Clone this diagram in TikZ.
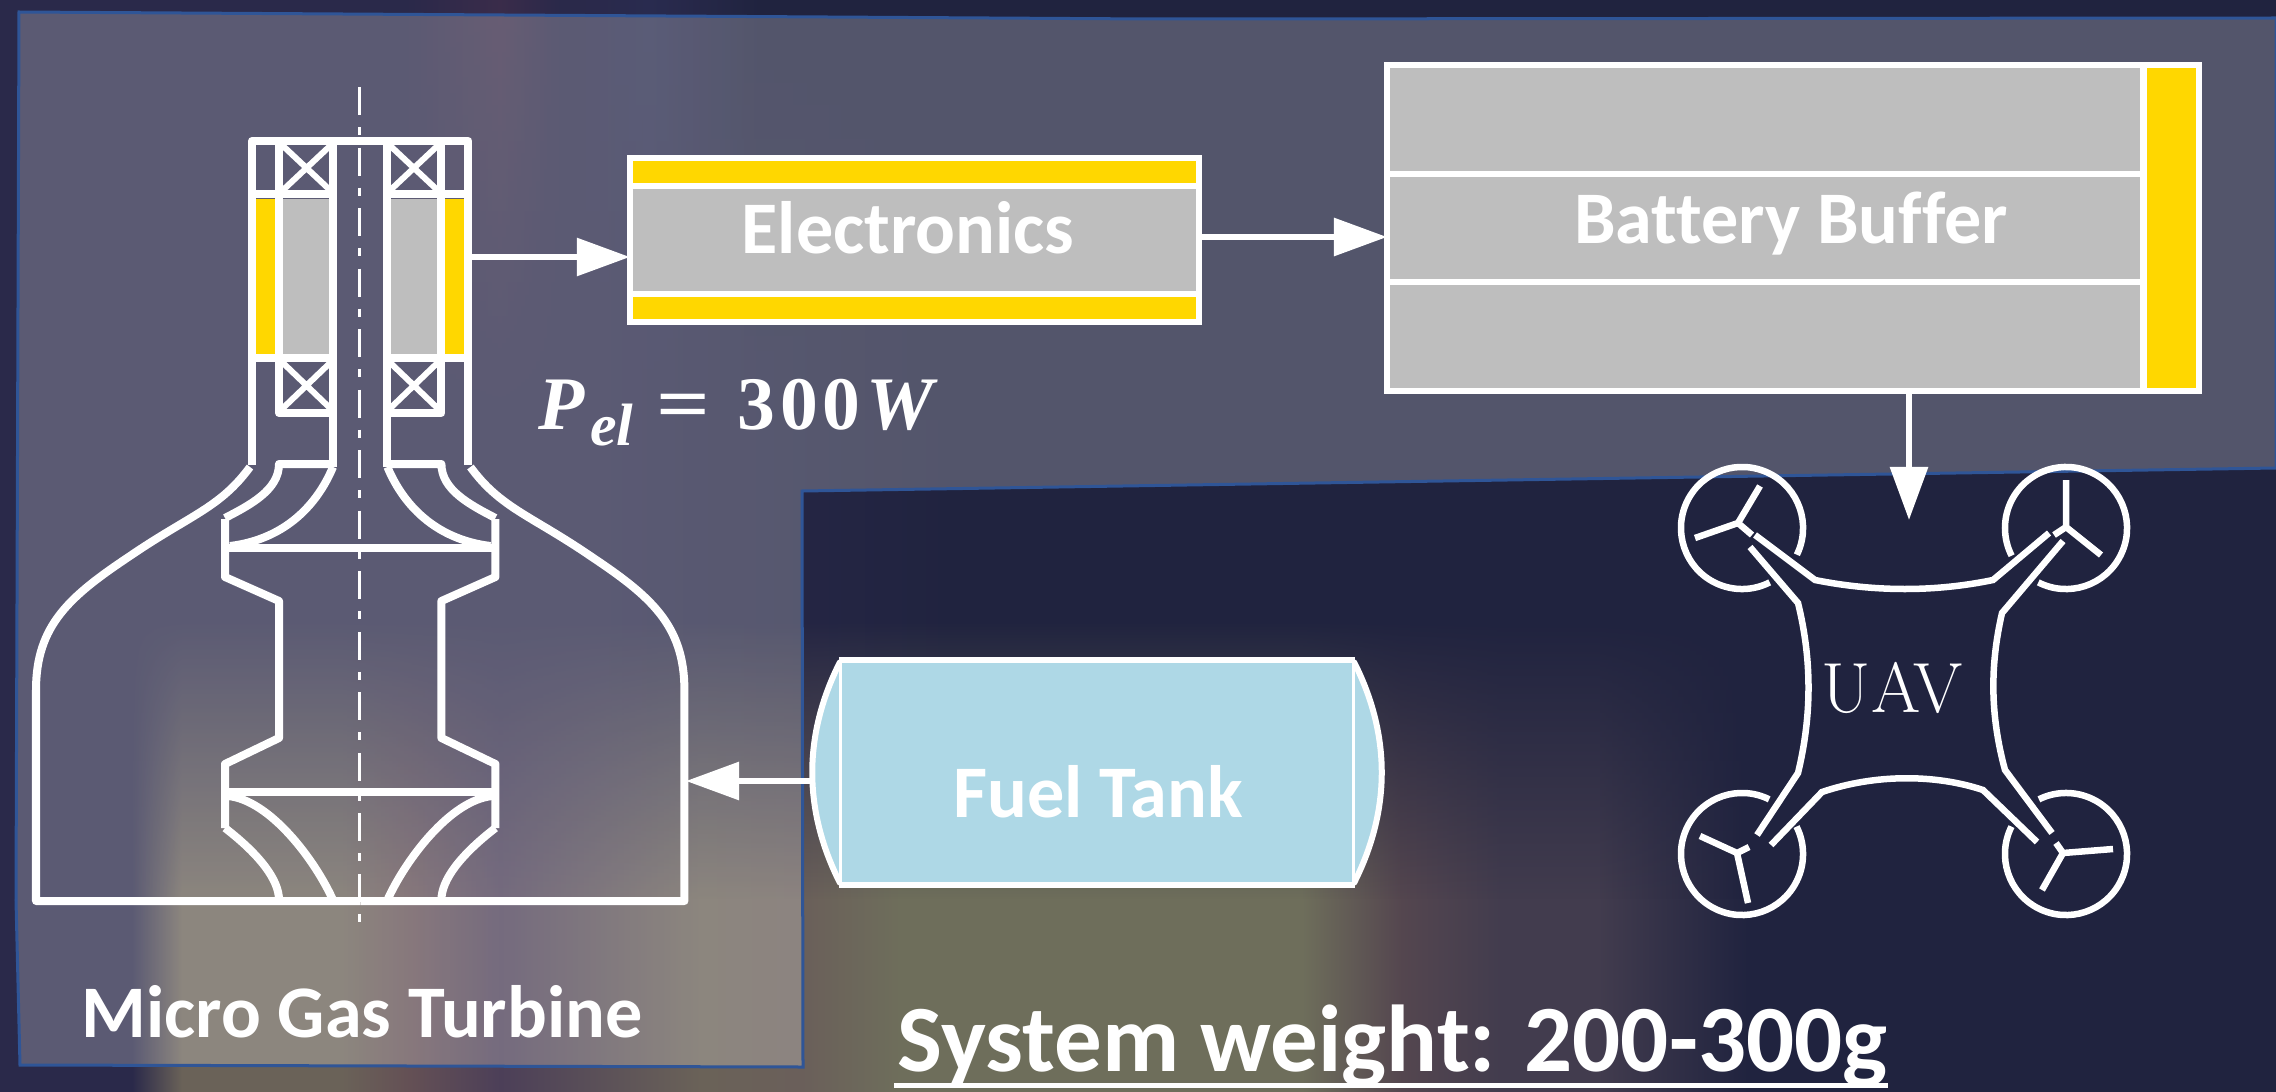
\documentclass[tikz,border=0pt]{standalone}
\usepackage{fontspec}
\usepackage{tikz}
\usetikzlibrary{arrows.meta,fadings}
\newfontfamily\labelfont{Carlito}[Ligatures=NoCommon]
\newfontfamily\powerfont{Liberation Serif}

\definecolor{panelblue}{HTML}{2F5597}
\definecolor{coilyellow}{HTML}{FFD700}
\definecolor{cellgray}{HTML}{BEBEBE}
\definecolor{tankblue}{HTML}{AED8E6}
\definecolor{navy}{HTML}{2A294A}
\definecolor{navydark}{HTML}{20233F}
\definecolor{streakred}{HTML}{3B2D4B}
\definecolor{streakblue}{HTML}{2A2C50}
\definecolor{blurtan}{HTML}{6A6258}
\definecolor{blurrose}{HTML}{645055}
\definecolor{blurplum}{HTML}{4C3F58}
\definecolor{blurolive}{HTML}{6E6E5B}
\definecolor{blurbrown}{HTML}{6A5F5A}
\definecolor{blurdusk}{HTML}{423C4E}
\definecolor{blurwine}{HTML}{54464F}

\pgfdeclarehorizontalshading{bgtop}{100bp}{color(0bp)=(navy); color(33.8bp)=(navy); color(36bp)=(streakred);
  color(37.4bp)=(navy); color(39.3bp)=(streakblue); color(41.7bp)=(navydark); color(100bp)=(navydark)}
\pgfdeclarehorizontalshading{bgmid}{100bp}{color(0bp)=(navy); color(38bp)=(navy); color(46bp)=(navydark); color(100bp)=(navydark)}
\pgfdeclarehorizontalshading{bgbottom}{100bp}{color(0bp)=(navy); color(27.9bp)=(navy); color(29bp)=(blurtan);
  color(32.5bp)=(blurtan); color(34bp)=(blurrose); color(36bp)=(blurplum); color(40.4bp)=(blurtan);
  color(42.6bp)=(blurbrown); color(44.8bp)=(blurolive); color(53.6bp)=(blurolive); color(55.8bp)=(blurwine);
  color(58bp)=(blurdusk); color(60.1bp)=(blurdusk); color(63.4bp)=(navydark); color(100bp)=(navydark)}
\tikzfading[name=blur up, top color=transparent!100, bottom color=transparent!0]
\tikzfading[name=blur down, top color=transparent!0, bottom color=transparent!100]

\tikzset{
    turbine/.style={
           draw=white,
           line width=0.08cm,
           line join=round,
           },
    bearing/.style={
           draw=white,
           line width=0.06cm,
           },
    state/.style={
           rectangle,
           draw=white,
           line width=0.06cm,
           fill=cellgray,
           inner sep=0pt,
           outer sep=0pt,
           },
    strip/.style={
           rectangle,
           draw=white,
           line width=0.06cm,
           fill=coilyellow,
           inner sep=0pt,
           outer sep=0pt,
           },
    title/.style={
           text=white,
           inner sep=0pt,
           anchor=base,
           font=\labelfont\bfseries\fontsize{21.1}{24}\selectfont,
           },
    uav/.style={
           draw=white,
           line width=0.065cm,
           },
    flow/.style={
           draw=white,
           line width=0.06cm,
           -{Triangle[length=0.53cm,width=0.37cm]},
           },
}

% one half of the turbine section, mirrored below
\newcommand{\halfturbine}{
 \fill[coilyellow] (256,199) rectangle (275,354);
 \fill[cellgray] (282,199) rectangle (329,354);
 % housing and bearings
 \draw[turbine] (252,465) -- (252,141) -- (360,141);
 \draw[turbine] (252,194) -- (333,194);
 \draw[turbine] (252,358) -- (333,358);
 \draw[turbine] (279,141) -- (279,413) -- (333,413);
 \draw[turbine] (333,141) -- (333,467);
 \draw[bearing] (282,145) -- (331,191) (331,145) -- (282,191);
 \draw[bearing] (282,362) -- (331,409) (331,362) -- (282,409);
 % compressor
 \draw[turbine] (333,464) -- (279,464) .. controls (279,490) and (250,505) .. (225,518);
 \draw[turbine] (333,467) .. controls (315,510) and (280,540) .. (230,546);
 \draw[turbine] (225,519) -- (225,577) -- (279,601) -- (279,738) -- (225,764) -- (225,828);
 \draw[turbine] (225,548) -- (360,548);
 % turbine wheel
 \draw[turbine] (225,792) -- (360,792);
 \draw[turbine] (228,796) .. controls (270,800) and (315,860) .. (333,900);
 \draw[turbine] (225,828) .. controls (260,855) and (279,880) .. (279,900);
 % casing
 \draw[turbine] (250,467) .. controls (220,508) and (190,515) .. (130,556)
   .. controls (70,596) and (36,625) .. (36,690) -- (36,901) -- (360,901);
}

\begin{document}
\begin{tikzpicture}[x=0.01cm,y=-0.01cm]
\useasboundingbox (0,0) rectangle (2276,1091);

 % blurred photo behind everything
 \path[shading=bgmid] (0,0) rectangle (2276,1091);
 \path[shading=bgtop,path fading=blur down] (0,0) rectangle (2276,420);
 \path[shading=bgbottom,path fading=blur up] (0,620) rectangle (2276,900);
 \path[shading=bgbottom] (0,899) rectangle (2276,1091);

 % glass panel
 \path[fill=white,fill opacity=0.23,draw=panelblue,line width=0.03cm]
   (19,12) -- (1150,19) -- (2276,18) -- (2276,468) -- (802,491) -- (803,1067) -- (20,1065) -- (16,900) -- cycle;

 % Micro Gas Turbine
 \halfturbine
 \begin{scope}[xscale=-1,xshift=-7.2cm]
 \halfturbine
 \end{scope}
 \draw[white,line width=0.03cm,dash pattern=on 0.28cm off 0.12cm on 0.08cm off 0.125cm] (359,87) -- (359,928);
 \node[title] (Turbine Label) at (362,1037) {Micro Gas Turbine};
 \coordinate (Generator) at (471,257);
 \coordinate (Combustor) at (686,781);

 % Electronics
 \node[strip,minimum width=5.69cm,minimum height=0.27cm] (Electronics Top) at (914.5,172) {};
 \node[strip,minimum width=5.69cm,minimum height=0.27cm] (Electronics Bottom) at (914.5,308) {};
 \node[state,minimum width=5.69cm,minimum height=1.08cm] (Electronics) at (914.5,240) {};
 \node[title] (Electronics Label) at (908,254) {Electronics};

 % Battery Buffer
 \node[state,minimum width=7.56cm,minimum height=1.09cm] (Battery Top) at (1765,119.5) {};
 \node[state,minimum width=7.56cm,minimum height=1.08cm] (Battery) at (1765,228) {};
 \node[state,minimum width=7.56cm,minimum height=1.09cm] (Battery Bottom) at (1765,336.5) {};
 \node[strip,minimum width=0.55cm,minimum height=3.26cm] (Battery Strip) at (2171,228) {};
 \node[title] (Battery Label) at (1791,244) {Battery Buffer};
 \coordinate (Battery In) at (1387,237);
 \coordinate (Electronics Out) at (1199,237);

 % Fuel Tank
 \path[fill=tankblue,draw=white,line width=0.06cm,line join=round] (840,662)
   .. controls (803,735) and (803,810) .. (840,883)
   -- (1354,883) .. controls (1391,810) and (1391,735) .. (1354,662) -- cycle;
 \node[rectangle,draw=white,line width=0.03cm,fill=tankblue,inner sep=0pt,minimum width=5.13cm,minimum height=2.21cm] (Fuel Tank) at (1097,772.5) {};
 \draw[white,line width=0.06cm] (Fuel Tank.north west) -- (Fuel Tank.north east) (Fuel Tank.south west) -- (Fuel Tank.south east);
 \node[title] (Fuel Tank Label) at (1098,817) {Fuel Tank};
 \coordinate (Fuel Out) at (812,781);

 % output power
 \node[text=white,inner sep=0pt,anchor=base west] (Power) at (538,429)
  {\powerfont\bfseries\fontsize{21.5}{24}\selectfont\textit{P}\kern0.05cm\raisebox{-0.16cm}{\fontsize{17}{20}\selectfont\textit{el}}\kern0.23cm\scalebox{1.25}[1]{=}\kern0.27cm3\kern0.05cm0\kern0.05cm0\kern0.06cm\textit{W}};

 % System weight
 \node[title,anchor=base west,font=\labelfont\bfseries\fontsize{27}{30}\selectfont] (Weight) at (897,1071) {System weight: 200-300g};
 \draw[white,line width=0.05cm] (Weight.base west) ++(-3,14) -- ++(994,0);

 % UAV rotors
 \foreach \cx/\cy/\startangle/\endangle in {1742/528/-26/297,2066/528/243/567,1742/854/63.6/386.7,2066/854/153.3/476.4}{
  \draw[uav] (\cx,\cy) ++(\startangle:0.61cm) arc[start angle=\startangle,end angle=\endangle,radius=0.61cm];
 }
 \draw[uav] (1738,523) -- (1760,486) (1738,523) -- (1695,538) (1738,523) -- (1752,535);
 \draw[uav] (2066,527) -- (2066,480) (2066,527) -- (2101,555) (2066,527) -- (2054,535);
 \draw[uav] (1737,853) -- (1700,836) (1737,853) -- (1748,903) (1737,853) -- (1749,847);
 \draw[uav] (2063,853) -- (2113,849) (2063,853) -- (2042,890) (2063,853) -- (2056,843);

 % UAV arms
 \draw[uav] (1755,535) -- (1815,580) .. controls (1875,592) and (1935,592) .. (1993,580) -- (2049,533);
 \draw[uav] (1750,547) -- (1798,603) .. controls (1812,660) and (1812,715) .. (1798,773) -- (1757,835);
 \draw[uav] (2063,541) -- (2002,613) .. controls (1990,665) and (1990,715) .. (2005,770) -- (2052,833);
 \draw[uav] (1771,845) -- (1822,792) .. controls (1875,774) and (1935,774) .. (1983,790) -- (2037,842);
 \node[text=white,inner sep=0pt,anchor=base,font=\fontsize{20.2}{22}\selectfont] (UAV) at (1892,712) {UAV};
 \coordinate (UAV Top) at (1909,520);

 % energy and fuel flow
 \draw[flow] (Generator) -- (Electronics.west |- Generator);
 \draw[flow] (Electronics Out) -- (Battery In);
 \draw[flow] (Battery Bottom.south -| UAV Top) -- (UAV Top);
 \draw[flow] (Fuel Out) -- (Combustor);

\end{tikzpicture}
\end{document}
